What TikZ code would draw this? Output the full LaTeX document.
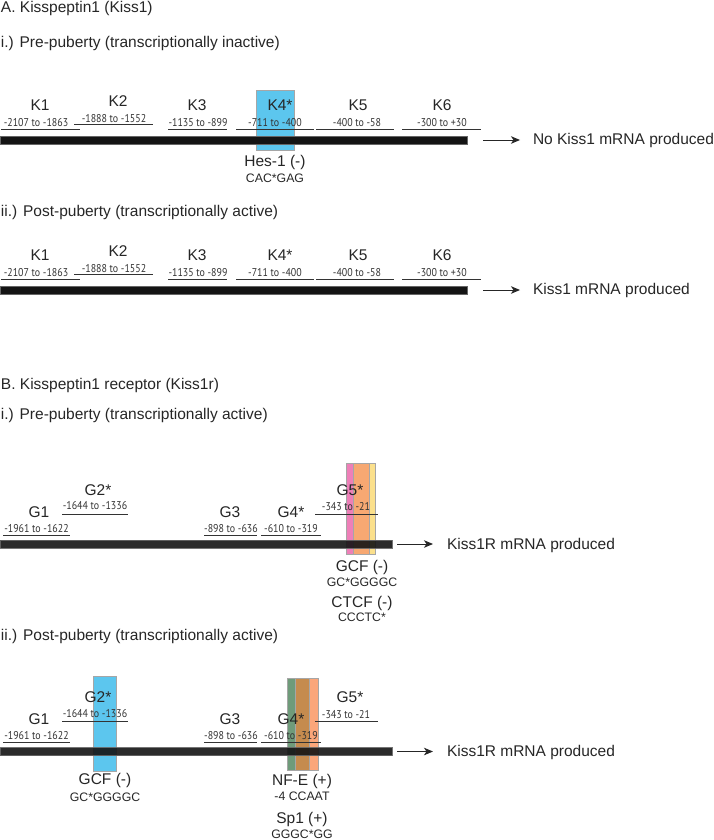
\documentclass[tikz,border=0pt]{standalone}
\usepackage{fontspec}
\setmainfont{Liberation Sans}
\newfontfamily\rngfont[FakeStretch=0.88]{PT Sans}
\usetikzlibrary{arrows.meta}
\definecolor{kblue}{HTML}{5CC6EE}
\definecolor{kpink}{HTML}{EE7FB8}
\definecolor{korange}{HTML}{F7A872}
\definecolor{kyellow}{HTML}{FBE08C}
\definecolor{kgreen}{HTML}{6F9B7A}
\definecolor{kbrown}{HTML}{C58B4E}
\definecolor{ksalmon}{HTML}{FBA67A}
\newcommand{\KRow}[1]{%
  \draw[uline] (1,129) -- (80,129);
  \draw[uline] (74,124) -- (153,124);
  \draw[uline] (168,129) -- (227,129);
  \draw[uline] (236,129) -- (314,129);
  \draw[uline] (316,129) -- (394,129);
  \draw[uline] (402,129) -- (481,129);
  \node[klab] (#1k1) at (40,105) {K1};
  \node[klab] (#1k2) at (118,101) {K2};
  \node[klab] (#1k3) at (197,105) {K3};
  \node[klab] (#1k4) at (280,105) {K4*};
  \node[klab] (#1k5) at (358,105) {K5};
  \node[klab] (#1k6) at (442,105) {K6};
  \node[rng] (#1r1) at (36,122.5) {-2107 to -1863};
  \node[rng] (#1r2) at (114,118.5) {-1888 to -1552};
  \node[rng] (#1r3) at (198,122.5) {-1135 to -899};
  \node[rng] (#1r4) at (275,122.5) {-711 to -400};
  \node[rng] (#1r5) at (357,122.5) {-400 to -58};
  \node[rng] (#1r6) at (442,122.5) {-300 to +30};
}
\newcommand{\GRow}[1]{%
  \draw[uline] (3,535) -- (70,535);
  \draw[uline] (62,514) -- (128,514);
  \draw[uline] (204,535) -- (257,535);
  \draw[uline] (261,535) -- (321,535);
  \draw[uline] (315,514) -- (378,514);
  \node[klab] (#1g1) at (39,512) {G1};
  \node[klab] (#1g2) at (98,490) {G2*};
  \node[klab] (#1g3) at (230,512) {G3};
  \node[klab] (#1g4) at (291,512) {G4*};
  \node[klab] (#1g5) at (350,490) {G5*};
  \node[rng] (#1r1) at (36.5,528.5) {-1961 to -1622};
  \node[rng] (#1r2) at (95,506) {-1644 to -1336};
  \node[rng] (#1r3) at (231,528.5) {-898 to -636};
  \node[rng] (#1r4) at (291,528.5) {-610 to -319};
  \node[rng] (#1r5) at (346,507) {-343 to -21};
}
\begin{document}
\begin{tikzpicture}[x=1pt,y=-1pt,
  every node/.style={inner sep=0pt, outer sep=0pt},
  head/.style={anchor=west, font=\fontsize{15.5}{18}\selectfont, text=black!85},
  klab/.style={font=\fontsize{15.5}{18}\selectfont, text=black!85},
  rng/.style={font=\rngfont\fontsize{11.3}{13}\selectfont, text=black!80},
  uline/.style={draw=black!80, line width=0.9pt},
  dna/.style={fill=black!92, draw=black!60, line width=0.4pt, anchor=north west, minimum height=8pt},
  sq/.style={font=\fontsize{12.3}{14}\selectfont, text=black!85},
  boxedge/.style={draw=black!35, line width=0.8pt},
  arr/.style={-{Stealth[length=9pt,width=7.5pt,inset=2.5pt]}, line width=0.9pt, black!85},
]
\useasboundingbox (0,0) rectangle (714,840);

% ---------------- A ----------------
\node[head] (tA) at (1,8) {A. Kisspeptin1 (Kiss1)};
\node[head] (tA1) at (1,43) {i.) Pre-puberty (transcriptionally inactive)};

\filldraw[fill=kblue, boxedge] (256,90) rectangle (294,150);
\node[dna, minimum width=467pt] (barA1) at (0,136) {};
\KRow{a1}
\node[klab] (hes) at (275,162) {Hes-1 (-)};
\node[sq] (hesq) at (275,178) {CAC*GAG};
\node[head] (oA1) at (533,140) {No Kiss1 mRNA produced};
\coordinate (sA1) at ([xshift=16pt]barA1.east);
\draw[arr, shorten >=13pt] (sA1) -- (sA1 -| oA1.west);

\node[head] (tA2) at (1,212) {ii.) Post-puberty (transcriptionally active)};
\begin{scope}[shift={(0,150)}]
\node[dna, minimum width=467pt] (barA2) at (0,136) {};
\KRow{a2}
\node[head] (oA2) at (533,140) {Kiss1 mRNA produced};
\coordinate (sA2) at ([xshift=16pt]barA2.east);
\draw[arr, shorten >=13pt] (sA2) -- (sA2 -| oA2.west);
\end{scope}

% ---------------- B ----------------
\node[head] (tB) at (1,385) {B. Kisspeptin1 receptor (Kiss1r)};
\node[head] (tB1) at (1,415) {i.) Pre-puberty (transcriptionally active)};

\fill[kpink] (346,463) rectangle (369,554);
\fill[kyellow] (353,463) rectangle (375,554);
\fill[korange] (353,463) rectangle (369,554);
\draw[boxedge] (346,463) rectangle (369,554);
\draw[boxedge] (353,463) rectangle (375,554);
\node[dna, minimum width=392pt, opacity=0.9] (barB1) at (0,540) {};
\GRow{b1}
\node[klab] (gcf1) at (362,567) {GCF (-)};
\node[sq] (gcf1q) at (362,582) {GC*GGGGC};
\node[klab] (ctcf) at (362,603) {CTCF (-)};
\node[sq] (ctcfq) at (362,617) {CCCTC*};
\node[head] (oB1) at (447,545) {Kiss1R mRNA produced};
\coordinate (sB1) at ([xshift=5pt]barB1.east);
\draw[arr, shorten >=14pt] (sB1) -- (sB1 -| oB1.west);

\node[head] (tB2) at (1,636) {ii.) Post-puberty (transcriptionally active)};
\filldraw[fill=kblue, boxedge] (93,676) rectangle (116,771);
\fill[kgreen] (287,678) rectangle (309,770);
\fill[ksalmon] (295,678) rectangle (318,770);
\fill[kbrown] (295,678) rectangle (309,770);
\draw[boxedge] (287,678) rectangle (309,770);
\draw[boxedge] (295,678) rectangle (318,770);
\begin{scope}[shift={(0,207.5)}]
\node[dna, minimum width=392pt, opacity=0.9] (barB2) at (0,540) {};
\GRow{b2}
\node[head] (oB2) at (447,545) {Kiss1R mRNA produced};
\coordinate (sB2) at ([xshift=5pt]barB2.east);
\draw[arr, shorten >=14pt] (sB2) -- (sB2 -| oB2.west);
\end{scope}
\node[klab] (gcf2) at (105,780) {GCF (-)};
\node[sq] (gcf2q) at (105,797) {GC*GGGGC};
\node[klab] (nfe) at (302,781) {NF-E (+)};
\node[sq] (nfeq) at (302,796) {-4 CCAAT};
\node[klab] (sp1) at (302,819) {Sp1 (+)};
\node[sq] (sp1q) at (302,834) {GGGC*GG};
\end{tikzpicture}
\end{document}
